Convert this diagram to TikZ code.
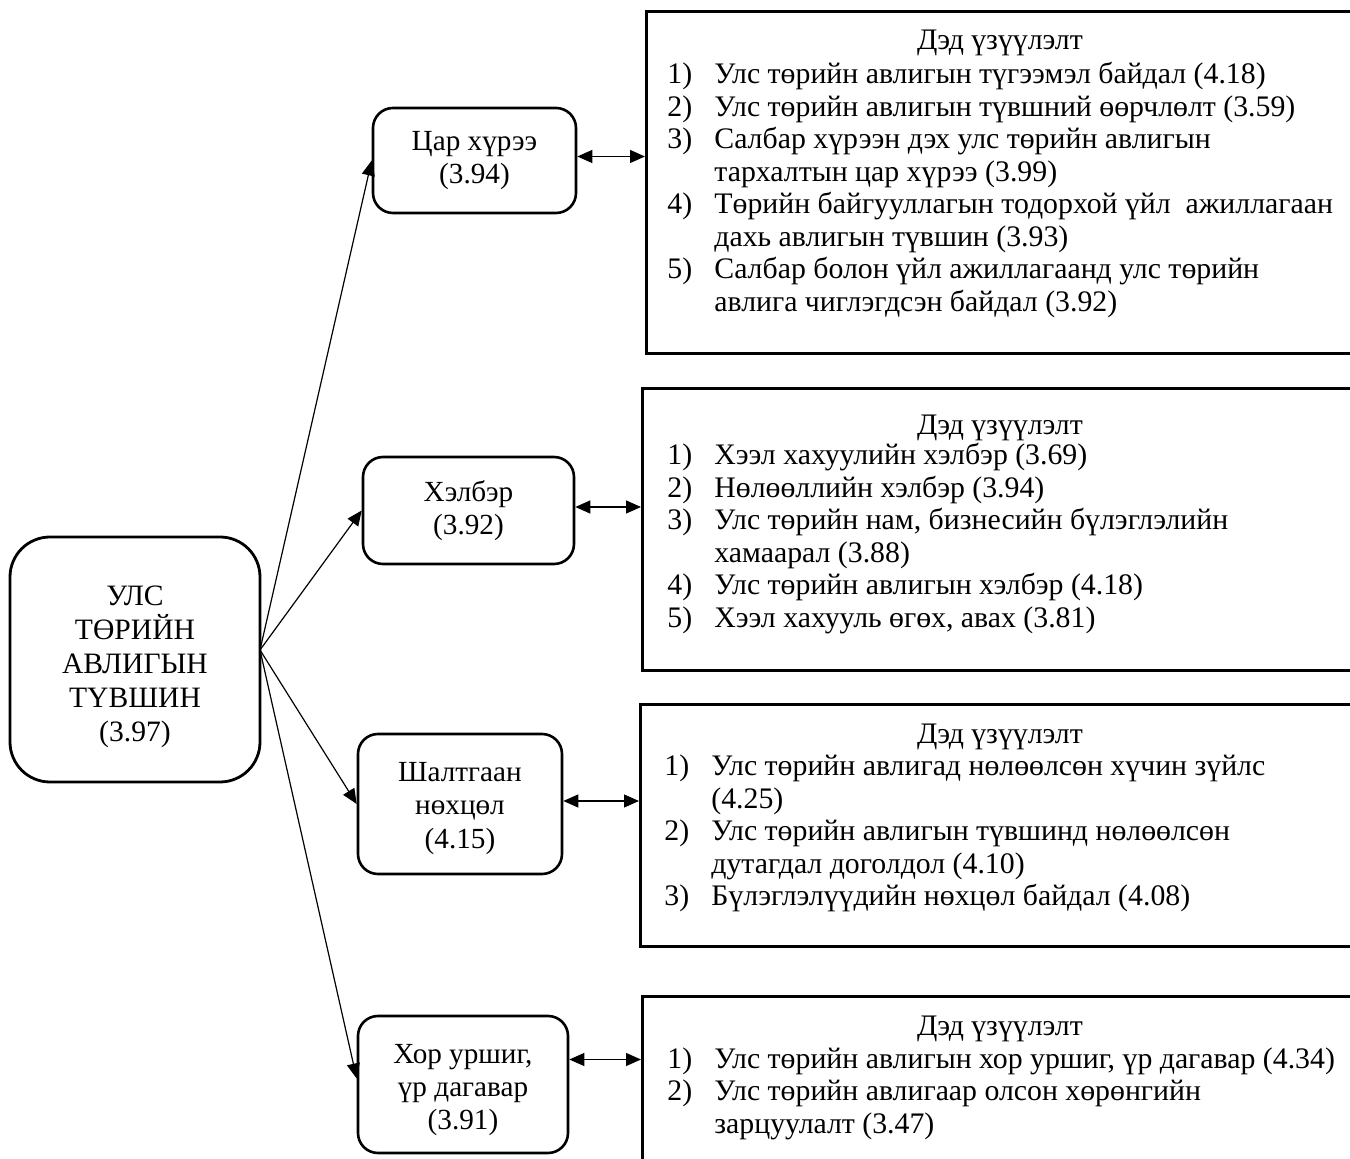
\documentclass[tikz,border=0pt]{standalone}
\usepackage{fontspec}
\setmainfont{Liberation Serif}
\usetikzlibrary{arrows.meta}
\tikzset{hubbox/.style={draw, line width=1.4pt, rounded corners=20pt,
         align=center, inner sep=0pt, minimum width=125pt,
         minimum height=122.5pt, font=\fontsize{14.8}{17}\selectfont},
         capbox/.style={draw, line width=1.3pt, rounded corners=10pt,
         align=center, inner sep=0pt, font=\fontsize{14.6}{16.6}\selectfont},
         listbox/.style={draw, line width=1.3pt, anchor=north west,
         minimum width=365pt, inner sep=0pt},
         head/.style={anchor=base, inner sep=0pt, font=\fontsize{14.9}{16.25}\selectfont},
         items/.style={anchor=base west, inner sep=0pt, font=\fontsize{14.9}{16.25}\selectfont},
         link/.style={line width=0.6pt, -{Triangle[length=7.5pt,width=6.5pt]}},
         twoway/.style={line width=0.6pt,
         {Triangle[length=7.5pt,width=6.5pt]}-{Triangle[length=7.5pt,width=6.5pt]}}}
\newcommand\itemrows[1]{\begin{tabular}[t]{@{}p{23.5pt}@{}l@{}}#1\end{tabular}}

\begin{document}
\begin{tikzpicture}[x=0.5pt,y=-0.5pt]
      \useasboundingbox (0,0) rectangle (1350,1159);

      \node[hubbox] (main) at (135,659.5) {\rule{0pt}{17pt}УЛС\\ТӨРИЙН\\АВЛИГЫН\\ТҮВШИН\\(3.97)};
      \coordinate (hub) at (260,650);

      \node[capbox, minimum width=101.5pt, minimum height=52.5pt] (capA) at (474.5,160.5) {Цар хүрээ\\(3.94)};
      \node[capbox, minimum width=105.5pt, minimum height=53.5pt] (capB) at (468.5,510.5) {Хэлбэр\\(3.92)};
      \node[capbox, minimum width=102pt, minimum height=70pt] (capC) at (460,804) {\rule{0pt}{14pt}Шалтгаан\\нөхцөл\\(4.15)};
      \node[capbox, minimum width=105pt, minimum height=68.5pt] (capD) at (463,1084.5) {\rule{0pt}{15pt}Хор уршиг,\\үр дагавар\\(3.91)};

      % right boxes run past the page edge
      \node[listbox, minimum height=171pt] (listA) at (645,10) {};
      \node[listbox, minimum height=141pt] (listB) at (641,387) {};
      \node[listbox, minimum height=121pt] (listC) at (639,703) {};
      \node[listbox, minimum height=90pt] (listD) at (641,995) {};

      \node[head] (headA) at (1000,50) {Дэд үзүүлэлт};
      \node[items] (itemsA) at (667,84) {\itemrows{%
        1) & Улс төрийн авлигын түгээмэл байдал (4.18)\\
        2) & Улс төрийн авлигын түвшний өөрчлөлт (3.59)\\
        3) & Салбар хүрээн дэх улс төрийн авлигын\\
           & тархалтын цар хүрээ (3.99)\\
        4) & Төрийн байгууллагын тодорхой үйл\ \ ажиллагаан\\
           & дахь авлигын түвшин (3.93)\\
        5) & Салбар болон үйл ажиллагаанд улс төрийн\\
           & авлига чиглэгдсэн байдал (3.92)}};

      \node[head] (headB) at (1000,435) {Дэд үзүүлэлт};
      \node[items] (itemsB) at (667,465) {\itemrows{%
        1) & Хээл хахуулийн хэлбэр (3.69)\\
        2) & Нөлөөллийн хэлбэр (3.94)\\
        3) & Улс төрийн нам, бизнесийн бүлэглэлийн\\
           & хамаарал (3.88)\\
        4) & Улс төрийн авлигын хэлбэр (4.18)\\
        5) & Хээл хахууль өгөх, авах (3.81)}};

      \node[head] (headC) at (1000,744) {Дэд үзүүлэлт};
      \node[items] (itemsC) at (664,776) {\itemrows{%
        1) & Улс төрийн авлигад нөлөөлсөн хүчин зүйлс\\
           & (4.25)\\
        2) & Улс төрийн авлигын түвшинд нөлөөлсөн\\
           & дутагдал доголдол (4.10)\\
        3) & Бүлэглэлүүдийн нөхцөл байдал (4.08)}};

      \node[head] (headD) at (1000,1036) {Дэд үзүүлэлт};
      \node[items] (itemsD) at (667,1068) {\itemrows{%
        1) & Улс төрийн авлигын хор уршиг, үр дагавар (4.34)\\
        2) & Улс төрийн авлигаар олсон хөрөнгийн\\
           & зарцуулалт (3.47)}};

      \draw[link] (hub) -- (capA.west);
      \draw[link] (hub) -- (capB.west);
      \draw[link] (hub) -- (capC.west);
      \draw[link] (hub) -- ([yshift=3pt]capD.west);

      \draw[twoway] ([yshift=2pt]capA.east) -- ([yshift=2pt]capA.east -| listA.west);
      \draw[twoway] ([yshift=1.75pt]capB.east) -- ([yshift=1.75pt]capB.east -| listB.west);
      \draw[twoway] ([yshift=1.5pt]capC.east) -- ([yshift=1.5pt]capC.east -| listC.west);
      \draw[twoway] ([yshift=12.5pt]capD.east) -- ([yshift=12.5pt]capD.east -| listD.west);
    \end{tikzpicture}
\end{document}
